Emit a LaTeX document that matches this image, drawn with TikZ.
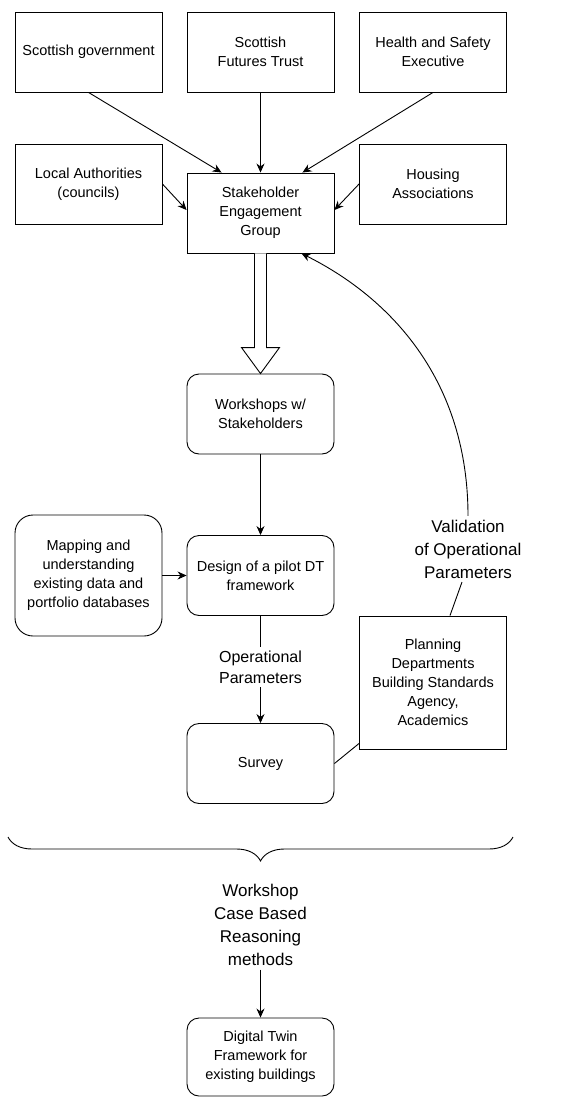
\documentclass[tikz,border=0pt]{standalone}
\usepackage{fontspec}
\setmainfont{Liberation Sans}
\usetikzlibrary{arrows.meta,positioning,calc,decorations.pathreplacing}

\begin{document}
\begin{tikzpicture}[x=1pt,y=-1pt,line width=0.9pt,
  box/.style={draw,minimum width=147pt,minimum height=80pt,align=center,font=\fontsize{14.5}{19}\selectfont},
  rbox/.style={box,rounded corners=12pt},
  lbl/.style={align=center,font=\fontsize{16}{21}\selectfont},
  biglbl/.style={align=center,font=\fontsize{17}{23}\selectfont},
  arr/.style={-{Stealth[length=9pt,width=8pt]}}]
  \useasboundingbox (0,0) rectangle (572,1097);

  \node[box] (gov) at (88.5,52) {Scottish government};
  \node[box] (sft) at (260.5,52) {Scottish\\Futures Trust};
  \node[box] (hse) at (433,52) {Health and Safety\\Executive};
  \node[box] (local) at (88.5,184) {Local Authorities\\(councils)};
  \node[box] (house) at (433,184) {Housing\\Associations};
  \node[box] (stake) at (260.5,213) {Stakeholder\\Engagement\\Group};
  \node[rbox] (work) at (260.5,414) {Workshops w/\\Stakeholders};
  \node[rbox] (design) at (260.5,575.5) {Design of a pilot DT\\framework};
  \node[rbox,minimum height=121pt,rounded corners=18pt] (map) at (88.5,575.5) {Mapping and\\understanding\\existing data and\\portfolio databases};
  \node[lbl] (opp) at (260.5,667) {Operational\\Parameters};
  \node[rbox] (survey) at (260.5,763.5) {Survey};
  \node[box,minimum height=133pt] (plan) at (433,682.5) {Planning\\Departments\\Building Standards\\Agency,\\Academics};
  \node[biglbl] (val) at (468,549) {Validation\\of Operational\\Parameters};
  \node[biglbl] (cbr) at (260.5,925) {Workshop\\Case Based\\Reasoning\\methods};
  \node[rbox,minimum height=78pt] (dt) at (260.5,1057) {Digital Twin\\Framework for\\existing buildings};

  \draw[arr] (gov.south) -- ([xshift=35pt]stake.north west);
  \draw[arr] (sft.south) -- (stake.north);
  \draw[arr] (hse.south) -- ([xshift=-32pt]stake.north east);
  \draw[arr] (local.east) -- ([yshift=3pt]stake.west);
  \draw[arr] (house.west) -- ([yshift=3pt]stake.east);

  \draw[fill=white] ([xshift=-6pt]stake.south) -- ([xshift=-6pt,yshift=26pt]work.north)
    -- ([xshift=-19pt,yshift=26pt]work.north) -- (work.north)
    -- ([xshift=19pt,yshift=26pt]work.north) -- ([xshift=6pt,yshift=26pt]work.north)
    -- ([xshift=6pt]stake.south);

  \draw[arr] (work.south) -- (design.north);
  \draw[arr] (map.east) -- (design.west);
  \draw (design.south) -- (opp.north);
  \draw[arr] (opp.south) -- (survey.north);
  \draw (survey.east) -- ([yshift=6pt]plan.south west);
  \draw ([xshift=17pt]plan.north) -- ([xshift=-6pt]val.south);
  \draw[arr] (val.north) .. controls +(0,-135) and +(90,45) .. ([xshift=41pt]stake.south);

  \coordinate (bright) at (513,837);
  \coordinate (bleft) at (8,837);
  \draw[decorate,decoration={brace,amplitude=24pt}] (bright) -- (bleft);

  \draw[arr] (cbr.south) -- (dt.north);
\end{tikzpicture}
\end{document}
